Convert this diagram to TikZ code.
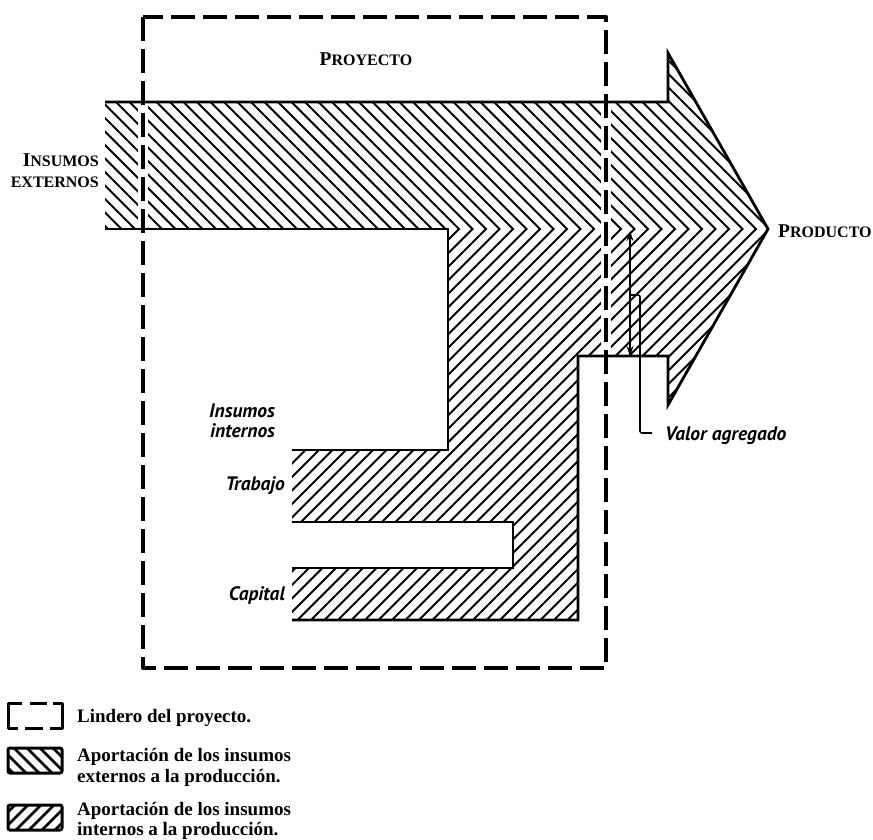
\documentclass[tikz,border=0pt]{standalone}
\usepackage{fontspec}
\usetikzlibrary{arrows.meta}
\newfontfamily\legendfont{Liberation Serif}
\newfontfamily\capsfont{Liberation Serif}
\newfontfamily\labelfont{PT Sans}
% small capitals built from two sizes of the same bold face
\newcommand{\capbig}[1]{{\fontsize{19.5}{19.5}\selectfont #1}}
\newcommand{\capsmall}[1]{{\fontsize{16}{16}\selectfont #1}}

\begin{document}
\begin{tikzpicture}[x=1pt,y=-1pt,
  >={Stealth[length=10pt,width=7pt]},
  outline/.style={line width=2.8pt, line join=miter, line cap=butt},
  hatchline/.style={line width=1.8pt},
  boundary/.style={line width=4.5pt, dash pattern=on 24pt off 8pt, line join=round},
  caps/.style={font=\capsfont\bfseries, inner sep=0pt},
  ital/.style={font=\labelfont\fontsize{19.5}{22}\selectfont\bfseries\itshape, inner sep=0pt},
  legendtext/.style={font=\legendfont\fontsize{19}{21}\selectfont\bfseries, inner sep=0pt, anchor=base west},
  legendframe/.style={line width=3pt, rounded corners=2pt},
]
\useasboundingbox (0,0) rectangle (873,840);
\fill[white] (0,0) rectangle (873,840);

% contribution of the external inputs: band from the left into the arrow
\begin{scope}
  \clip (105,102) -- (668,102) -- (668,53) -- (768,229) -- (105,229) -- cycle;
  \foreach \k in {0,...,75}
    \draw[hatchline] ({\k*13.5-300},-71) -- ({\k*13.5+300},529);
\end{scope}

% contribution of the internal inputs (labour and capital)
\begin{scope}
  \clip (448,229) -- (768,229) -- (668,405) -- (668,356) -- (578,356)
        -- (578,620) -- (292,620) -- (292,568) -- (513,568) -- (513,522)
        -- (292,522) -- (292,450) -- (448,450) -- cycle;
  \foreach \k in {0,...,75}
    \draw[hatchline] ({\k*13.5-450},679) -- ({\k*13.5+450},-221);
\end{scope}

% clear strip under the project boundary
\draw[white, line width=10pt] (143,17) rectangle (606,668);

% outlines of the flows
\draw[outline] (105,102) -- (668,102) -- (668,53) -- (768,229) -- (668,405)
  -- (668,356) -- (578,356) -- (578,620) -- (292,620);
\draw[outline] (292,568) -- (513,568) -- (513,522) -- (292,522);
\draw[outline] (292,450) -- (448,450) -- (448,229) -- (105,229);

% project boundary
\draw[boundary] (143,17) rectangle (606,668);

% labels
\node[caps, anchor=base] (proy) at (366,66) {\capbig{P}\capsmall{ROYECTO}};
\node[caps, anchor=base east] (ext1) at (99,167) {\capbig{I}\capsmall{NSUMOS}};
\node[caps, anchor=base east] (ext2) at (99,187) {\capsmall{EXTERNOS}};
\node[caps, anchor=base west] (prod) at (778,237) {\capbig{P}\capsmall{RODUCTO}};
\node[ital, anchor=base west] (int1) at (209,417) {Insumos};
\node[ital, anchor=base west] (int2) at (210,437) {internos};
\node[ital, anchor=base east] (trab) at (285,490) {Trabajo};
\node[ital, anchor=base east] (capi) at (285,600) {Capital};

% value added
\coordinate (vtop) at (630,231);
\coordinate (vbot) at (630,356);
\draw[line width=1.8pt, <->] (vtop) -- (vbot);
\node[ital, anchor=base west] (va) at (665,440) {Valor agregado};
\coordinate (vaend) at (652,433);
\draw[line width=1.6pt, rounded corners=2pt] (vaend) -| (640,295) -- (631,295);

% legend
\draw[line width=3pt, line join=round] (22,703) -- (8,703) -- (8,728) -- (18,728);
\draw[line width=3pt] (30,703) -- (47,703);
\draw[line width=3pt] (25,728) -- (43,728);
\draw[line width=3pt, line join=round] (53,703) -- (62,703) -- (62,728) -- (50,728);
\node[legendtext] (l1) at (77,722) {Lindero del proyecto.};

\begin{scope}
  \clip (8,748) rectangle (62,773);
  \foreach \k in {0,...,8}
    \draw[line width=2.6pt] ({\k*13-30},730) -- ({\k*13+30},790);
\end{scope}
\draw[legendframe] (8,748) rectangle (62,773);
\node[legendtext] (l2a) at (77,761) {Aportación de los insumos};
\node[legendtext] (l2b) at (77,782) {externos a la producción.};

\begin{scope}
  \clip (8,805) rectangle (62,830);
  \foreach \k in {0,...,8}
    \draw[line width=2.6pt] ({\k*13-30},850) -- ({\k*13+30},790);
\end{scope}
\draw[legendframe] (8,805) rectangle (62,830);
\node[legendtext] (l3a) at (77,815) {Aportación de los insumos};
\node[legendtext] (l3b) at (77,835) {internos a la producción.};
\end{tikzpicture}
\end{document}
